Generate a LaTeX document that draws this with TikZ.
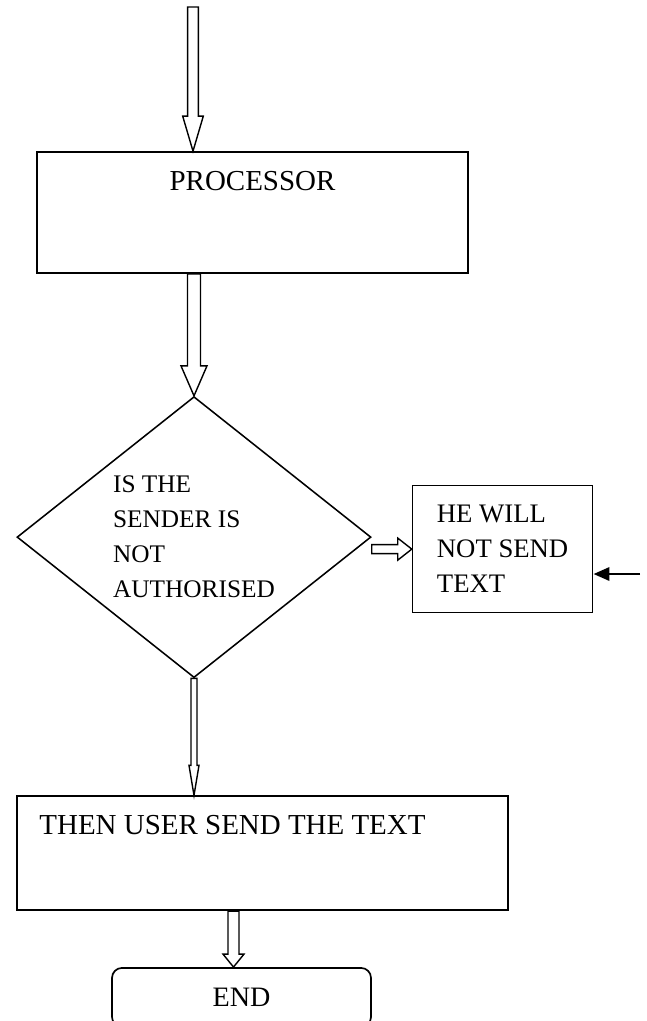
\documentclass[tikz,border=0pt]{standalone}
\usepackage{fontspec}
\setmainfont{Liberation Serif}
\usetikzlibrary{positioning, arrows.meta, shapes.geometric, calc}

\begin{document}
\begin{tikzpicture}[
  box/.style={draw, line width=1.2pt, rectangle, inner sep=0pt},
  decision/.style={
    draw, line width=1.1pt, diamond, aspect=1.26, inner sep=0pt,
    minimum width=8.85cm, minimum height=7.025cm,
    align=left, font=\fontsize{18}{24.9}\selectfont
  },
  note/.style={box, align=left, minimum width=4.5cm, minimum height=3.175cm,
    font=\fontsize{19}{24.9}\selectfont},
  lbl/.style={inner sep=0pt, font=\fontsize{20.6}{24}\selectfont},
  % hollow block arrow: half shaft, half head, head length
  pipe/.style n args={3}{
    draw, fill=white, line width=1pt,
    to path={
      ($(\tikztostart)!#1!90:(\tikztotarget)$)
      -- ($(\tikztotarget)!#3!(\tikztostart)!#1!90:(\tikztotarget)$)
      -- ($(\tikztotarget)!#3!(\tikztostart)!#2!90:(\tikztotarget)$)
      -- (\tikztotarget)
      -- ($(\tikztotarget)!#3!(\tikztostart)!#2!-90:(\tikztotarget)$)
      -- ($(\tikztotarget)!#3!(\tikztostart)!#1!-90:(\tikztotarget)$)
      -- ($(\tikztostart)!#1!-90:(\tikztotarget)$)
      -- cycle
    }
  },
  feed/.style={-{Triangle[length=0.4cm, width=0.33cm]}, line width=2pt},
]
\useasboundingbox (0,0) rectangle (16.175,-25.525);

% Main column
\node[box, minimum width=10.775cm, minimum height=3.025cm] (proc) at (6.3125,-5.3125) {};
\node[lbl, anchor=base, yshift=-0.975cm] (proctxt) at (proc.north) {PROCESSOR};

\node[decision, below=3.05cm of proc, xshift=-1.4625cm] (dec)
  {IS THE\\ SENDER IS\\ NOT\\ AUTHORISED};

\node[note, right=1cm of dec, yshift=-0.3cm] (stop) {HE WILL\\ NOT SEND\\ TEXT};

\node[box, minimum width=12.275cm, minimum height=2.85cm,
      below=2.925cm of dec, xshift=1.7125cm] (user) {};
\node[lbl, anchor=base west, xshift=0.575cm, yshift=-0.975cm] (usertxt)
  at (user.north west) {THEN USER SEND THE TEXT};

\node[box, rounded corners=0.25cm, minimum width=6.475cm, minimum height=1.475cm,
      font=\fontsize{20}{24}\selectfont,
      below=1.4cm of user, xshift=-0.525cm] (end) {END};

% Free ends
\coordinate (in)  at (4.825,-0.175);
\coordinate (src) at (16.0,-14.35);
\coordinate (a4)  at ([xshift=-0.2cm]end.north);

% Flow
\draw[pipe={0.1325cm}{0.2575cm}{0.875cm}] (in) to (in |- proc.north);
\draw[pipe={0.1625cm}{0.325cm}{0.75cm}] (dec.north |- proc.south) to (dec.north);
\draw[pipe={0.1125cm}{0.275cm}{0.35cm}] (dec.east |- stop.west) to (stop.west);
\draw[pipe={0.075cm}{0.125cm}{0.75cm}] (dec.south) to (dec.south |- user.north);
\draw[pipe={0.1375cm}{0.2625cm}{0.325cm}] (a4 |- user.south) to (a4);
\draw[feed] (src) -- (stop.east |- src);
\end{tikzpicture}
\end{document}
